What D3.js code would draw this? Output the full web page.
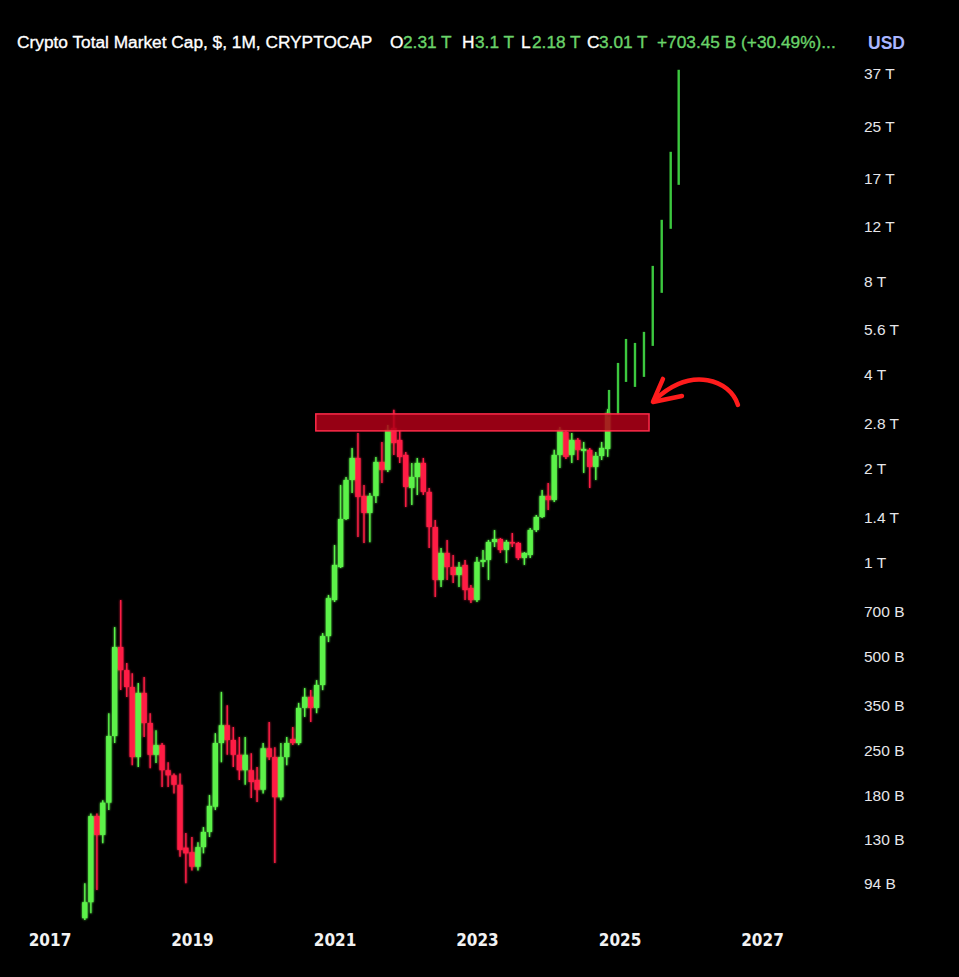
<!DOCTYPE html>
<html><head><meta charset="utf-8">
<script src="https://cdn.jsdelivr.net/npm/d3@7"></script>
<style>
html,body{margin:0;padding:0;background:#000;}
svg{display:block;}
</style></head>
<body>
<svg id="chart" width="959" height="977"></svg>
<script>
// ---------- DATA (values in billions USD) ----------
const months = ["2017-07","2017-08","2017-09","2017-10","2017-11","2017-12",
"2018-01","2018-02","2018-03","2018-04","2018-05","2018-06","2018-07","2018-08","2018-09","2018-10","2018-11","2018-12",
"2019-01","2019-02","2019-03","2019-04","2019-05","2019-06","2019-07","2019-08","2019-09","2019-10","2019-11","2019-12",
"2020-01","2020-02","2020-03","2020-04","2020-05","2020-06","2020-07","2020-08","2020-09","2020-10","2020-11","2020-12",
"2021-01","2021-02","2021-03","2021-04","2021-05","2021-06","2021-07","2021-08","2021-09","2021-10","2021-11","2021-12",
"2022-01","2022-02","2022-03","2022-04","2022-05","2022-06","2022-07","2022-08","2022-09","2022-10","2022-11","2022-12",
"2023-01","2023-02","2023-03","2023-04","2023-05","2023-06","2023-07","2023-08","2023-09","2023-10","2023-11","2023-12",
"2024-01","2024-02","2024-03","2024-04","2024-05","2024-06","2024-07","2024-08","2024-09","2024-10","2024-11"];

const openVals = [72.5,81.6,154,134,170,278,
536,452,399,238,382,306,242,260,216,208,194,122,
118,106,122.5,137,165,264,301,270,242,216,216,201,
187,254,238,177,238,272,264,342,371,342,405,581,
758,967,1378,1838,2162,1634,1441,1634,2099,1980,2698,2469,
2211,1733,1879,2084,1683,1299,879,1073,967,912,982,828,
758,1004,1019,1163,1189,1097,1163,1155,1034,1057,1271,1399,
1634,1586,2211,2620,2211,2469,2278,2295,2024,2194,2310];

const highVals = [93.9,157,157,173,329,621,
758,476,442,411,430,329,290,264,229,211,211,136,
132,127,142,180,284,385,349,297,276,276,245,221,
264,308,256,264,276,297,355,396,390,420,594,787,
1138,1772,1879,2328,2601,1772,1670,2178,2433,2759,3083,2659,
2261,2084,2162,2162,1733,1368,1113,1181,1057,1004,1019,847,
1041,1097,1181,1271,1198,1181,1243,1163,1080,1290,1420,1708,
1798,2295,2718,2659,2601,2506,2433,2328,2261,2433,3100];

const lowVals = [71.5,75.2,89.2,126,161,264,
390,371,224,221,276,219,228,191,191,182,114,93.9,
103,103,117,132,161,229,242,221,201,194,176,171,
182,233,109,173,224,260,260,320,308,329,390,556,
747,960,1368,1670,1207,1155,1160,1551,1798,1951,2211,2084,
1506,1529,1646,1646,1113,775,835,879,860,835,758,742,
747,967,879,1121,1073,996,1121,1019,982,1034,1253,1388,
1473,1563,2009,2146,2084,2130,1936,1733,1838,2130,2180];

const closeVals = [81.6,154,134,170,278,536,
452,399,238,382,306,242,260,216,208,194,120,117,
106,122.5,137,166,264,301,270,242,216,242,198,187,
254,238,177,238,264,264,342,371,342,405,581,769,
982,1378,1838,2162,1622,1441,1634,2099,1980,2659,2415,2178,
1746,1879,2084,1683,1299,879,1073,967,912,967,816,758,
1004,1019,1163,1189,1097,1163,1155,1034,1073,1271,1399,1634,
1586,2211,2659,2178,2469,2295,2311,2024,2194,2328,3010];

// projected path (thin lines), low / high in billions
const projDates = ["2024-11-08","2024-12-24","2025-02-03","2025-03-21","2025-05-06","2025-06-20","2025-08-05","2025-09-20","2025-10-31"];
const projLow  = [2927,2970,3789,3652,3932,4942,7309,11722,16214];
const projHigh = [3572,4359,5203,5052,5481,8918,12527,20690,37890];

// resistance zone
const zoneStart = "2020-09-27", zoneEnd = "2025-06-01";
const zoneLow = 2640, zoneHigh = 2992;

// axis ticks
const yTickValues = [37000,25000,17000,12000,8000,5600,4000,2800,2000,1400,1000,700,500,350,250,180,130,94];
const yTickLabels = ["37 T","25 T","17 T","12 T","8 T","5.6 T","4 T","2.8 T","2 T","1.4 T","1 T","700 B","500 B","350 B","250 B","180 B","130 B","94 B"];
const xTickYears = [2017,2019,2021,2023,2025,2027];

// arrow annotation anchor
const arrowTip = {date:"2025-06-16", value:3268};

// ---------- DRAW ----------
const svg = d3.select("#chart");
svg.append("rect").attr("width",959).attr("height",977).attr("fill","#000");

const parseM = d3.timeParse("%Y-%m");
const parseD = d3.timeParse("%Y-%m-%d");

const x = d3.scaleTime()
  .domain([new Date(2017,0,1), new Date(2027,0,1)])
  .range([49.5, 762]);
const y = d3.scaleLog()
  .domain([94, 37000])
  .range([883, 73]);

const GREEN = "#5cf24a", RED = "#ff1f45";
const candles = months.map((m,i)=>({d:parseM(m),o:openVals[i],h:highVals[i],l:lowVals[i],c:closeVals[i]}));
const bw = (x(new Date(2020,1,1)) - x(new Date(2020,0,1))) * 0.88;

const defs = svg.append("defs");
const glow = defs.append("filter").attr("id","glow").attr("x","-50%").attr("y","-50%").attr("width","200%").attr("height","200%");
glow.append("feGaussianBlur").attr("stdDeviation",0.9).attr("result","b");
const fm = glow.append("feMerge");
fm.append("feMergeNode").attr("in","b");
fm.append("feMergeNode").attr("in","SourceGraphic");

const gC = svg.append("g").attr("filter","url(#glow)");
gC.selectAll("line.wick").data(candles).join("line")
  .attr("class","wick")
  .attr("x1",d=>x(d.d)).attr("x2",d=>x(d.d))
  .attr("y1",d=>y(d.h)).attr("y2",d=>y(d.l))
  .attr("stroke",d=>d.c>=d.o?GREEN:RED).attr("stroke-width",1.4);
gC.selectAll("rect.body").data(candles).join("rect")
  .attr("class","body")
  .attr("x",d=>x(d.d)-bw/2).attr("width",bw)
  .attr("y",d=>y(Math.max(d.o,d.c)))
  .attr("height",d=>Math.max(1.5, Math.abs(y(d.o)-y(d.c))))
  .attr("fill",d=>d.c>=d.o?GREEN:RED);

// projection lines
const proj = projDates.map((d,i)=>({d:parseD(d),l:projLow[i],h:projHigh[i]}));
svg.append("g").selectAll("line").data(proj).join("line")
  .attr("x1",d=>x(d.d)).attr("x2",d=>x(d.d))
  .attr("y1",d=>y(d.h)).attr("y2",d=>y(d.l))
  .attr("stroke","#3cc83f").attr("stroke-width",2.4);

// zone rectangle
svg.append("rect")
  .attr("x",x(parseD(zoneStart))).attr("width",x(parseD(zoneEnd))-x(parseD(zoneStart)))
  .attr("y",y(zoneHigh)).attr("height",y(zoneLow)-y(zoneHigh))
  .attr("fill","#b00018").attr("fill-opacity",0.85)
  .attr("stroke","#ff2b4a").attr("stroke-width",1.5);

// arrow
const ax = x(parseD(arrowTip.date)), ay = y(arrowTip.value);
const ga = svg.append("g").attr("transform",`translate(${ax},${ay})`)
  .attr("fill","none").attr("stroke","#ff1c1c").attr("stroke-width",4.5)
  .attr("stroke-linecap","round").attr("stroke-linejoin","round");
ga.append("path").attr("d","M86,3 C78,-22 40,-36 4,-3");
ga.append("path").attr("d","M11,-23 L1,0 L30,-6");

// y axis
const yAxis = d3.axisRight(y).tickValues(yTickValues)
  .tickFormat((d,i)=>yTickLabels[i]).tickSize(0).tickPadding(0);
const gy = svg.append("g").attr("transform","translate(864,0)").call(yAxis);
gy.select(".domain").remove();
gy.selectAll("text").attr("fill","#e6e6ea")
  .attr("font-family","'Liberation Sans', Arial, sans-serif").attr("font-size",15.5)
  .attr("dy","0.35em");

// x axis
const xAxis = d3.axisBottom(x).tickValues(xTickYears.map(yr=>new Date(yr,0,1)))
  .tickFormat(d3.timeFormat("%Y")).tickSize(0).tickPadding(0);
const gx = svg.append("g").attr("transform","translate(0,940)").call(xAxis);
gx.select(".domain").remove();
gx.selectAll("text").attr("fill","#f2f2f2")
  .attr("font-family","'DejaVu Sans Condensed','DejaVu Sans',sans-serif")
  .attr("font-weight","bold").attr("font-size",17).attr("dy","0.35em");

// header
const hdr = svg.append("text").attr("y",48)
  .attr("font-family","'Liberation Sans', Arial, sans-serif").attr("font-size",17.3)
  .attr("stroke-width",0.35);
const HG = "#6ad36a", HW = "#ffffff";
const parts = [
  ["Crypto Total Market Cap, $, 1M, CRYPTOCAP",17,HW],
  ["O",390,HW],["2.31 T",403,HG],
  ["H",462,HW],["3.1 T",475,HG],
  ["L",521,HW],["2.18 T",532,HG],
  ["C",587,HW],["3.01 T",599,HG],
  ["+703.45 B (+30.49%)...",657,HG]
];
parts.forEach(p=>hdr.append("tspan").attr("x",p[1]).attr("fill",p[2]).attr("stroke",p[2]).text(p[0]));
svg.append("text").attr("x",868).attr("y",49)
  .attr("font-family","'Liberation Sans', Arial, sans-serif").attr("font-size",17.5)
  .attr("font-weight","bold").attr("fill","#aab6ff").text("USD");
</script>
</body></html>
